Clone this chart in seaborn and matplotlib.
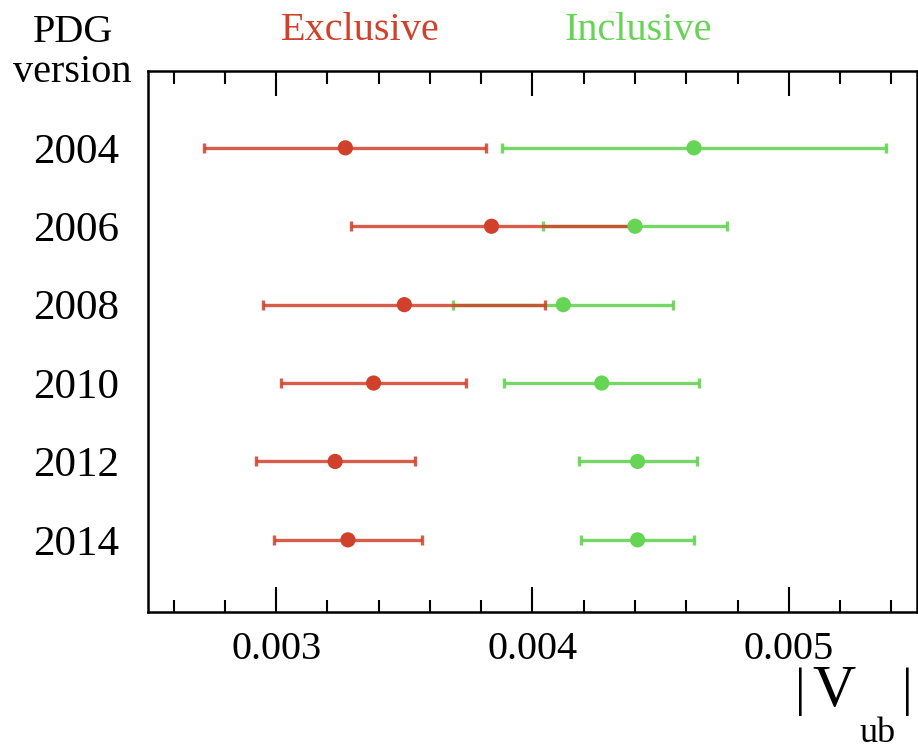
import numpy as np
import pandas as pd
import seaborn as sns
import matplotlib.pyplot as plt

# PDG |V_ub| values
years = ['2004', '2006', '2008', '2010', '2012', '2014']
excl_val = [0.00327, 0.00384, 0.00350, 0.00338, 0.00323, 0.00328]
excl_err = [0.00055, 0.00055, 0.00055, 0.00036, 0.00031, 0.00029]
incl_val = [0.00463, 0.00440, 0.00412, 0.00427, 0.00441, 0.00441]
incl_err = [0.00075, 0.00036, 0.00043, 0.00038, 0.00023, 0.00022]

red = '#d0402a'
green = '#66d455'

sns.set_theme(style="ticks")
plt.rcParams['font.family'] = ['Liberation Serif', 'DejaVu Serif']
plt.rcParams['text.color'] = 'black'
plt.rcParams['xtick.color'] = 'black'
plt.rcParams['ytick.color'] = 'black'

df = pd.DataFrame({
    'year': years * 2,
    'pos': list(range(len(years))) * 2,
    'value': incl_val + excl_val,
    'err': incl_err + excl_err,
    'kind': ['Inclusive'] * len(years) + ['Exclusive'] * len(years),
})

fig = plt.figure(figsize=(9.18, 7.51), dpi=100)
ax = fig.add_axes([148 / 918, 1 - 612 / 751, (917 - 148) / 918, (612 - 71) / 751])

# error bars
for kind, col, a in [('Inclusive', green, 0.9), ('Exclusive', red, 0.85)]:
    d = df[df['kind'] == kind]
    ax.errorbar(d['value'], d['pos'], xerr=d['err'], fmt='none', ecolor=col,
                elinewidth=2.4, capsize=3.5, capthick=2.4, alpha=a, zorder=2)

sns.scatterplot(data=df, x='value', y='pos', hue='kind',
                palette={'Inclusive': green, 'Exclusive': red},
                s=120, edgecolor='none', legend=False, ax=ax, zorder=3)

ax.set_xlim(0.0025, 0.0055)
ax.set_ylim(len(years) - 1 + 0.92, -0.98)
ax.set_xticks([0.003, 0.004, 0.005])
ax.set_xticklabels(['0.003', '0.004', '0.005'])
ax.set_xticks(np.arange(0.0026, 0.0055, 0.0002), minor=True)
ax.set_yticks(range(len(years)))
ax.set_yticklabels(years)
ax.set_xlabel('')
ax.set_ylabel('')

ax.tick_params(axis='x', which='major', direction='in', top=True, bottom=True,
               length=18, width=1.5, labelsize=29, pad=14)
ax.tick_params(axis='x', which='minor', direction='in', top=True, bottom=True,
               length=9, width=1.5)
ax.tick_params(axis='y', which='both', length=0, labelsize=31, pad=21)

for sp in ax.spines.values():
    sp.set_visible(True)
    sp.set_linewidth(1.8)
    sp.set_color('black')

# header labels
fig.text(360 / 918, 1 - 30 / 751, 'Exclusive', color=red, fontsize=29,
         ha='center', va='center')
fig.text(638 / 918, 1 - 30 / 751, 'Inclusive', color=green, fontsize=29,
         ha='center', va='center')
fig.text(73 / 918, 1 - 33 / 751, 'PDG', fontsize=29, ha='center', va='center')
fig.text(72 / 918, 1 - 73 / 751, 'version', fontsize=29, ha='center', va='center')

# |V_ub| axis label
fig.text(800 / 918, 1 - 692 / 751, '|', fontsize=38, ha='center', va='center')
fig.text(834 / 918, 1 - 692 / 751, 'V', fontsize=43, ha='center', va='center')
fig.text(907 / 918, 1 - 692 / 751, '|', fontsize=38, ha='center', va='center')
fig.text(878 / 918, 1 - 734 / 751, 'ub', fontsize=26, ha='center', va='center')

fig.savefig('out.png', dpi=100)
